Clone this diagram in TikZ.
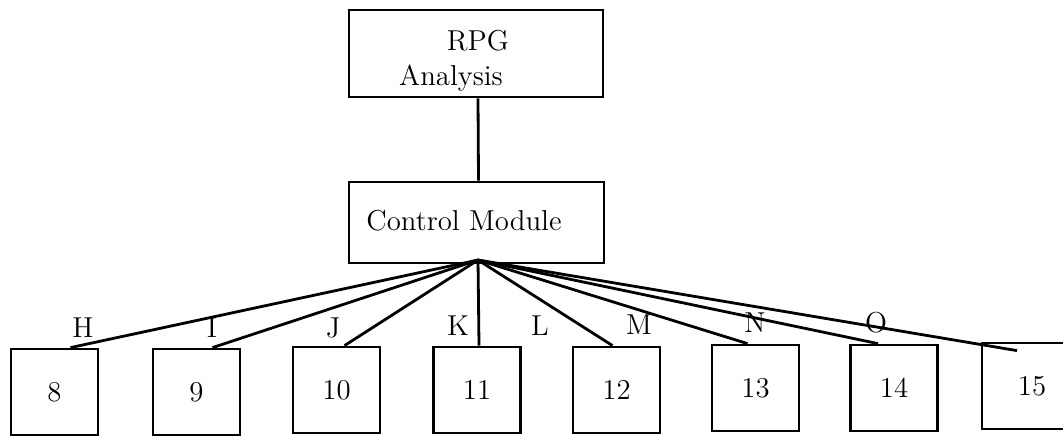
\documentclass[tikz,border=0pt]{standalone}
\usetikzlibrary{positioning}
\tikzset{
  box/.style={draw, rectangle, inner sep=0pt, font=\fontsize{14.4}{17}\selectfont},
  leaf/.style={box, minimum width=43.5pt, minimum height=43pt},
  tag/.style={inner sep=0pt, font=\fontsize{14.4}{17}\selectfont}
}
\begin{document}
\begin{tikzpicture}[x=0.5pt, y=-0.5pt, line width=1.4pt]
\useasboundingbox (0,0) rectangle (1063,435);
% top boxes
\node[box, minimum width=127pt, minimum height=43.5pt] (rpg) at (476,53.5) {};
\node[tag, anchor=base] (rpgname) at (478,50) {RPG};
\node[tag, anchor=base] (rpgsub) at (451,85) {Analysis};
\node[box, minimum width=127.5pt, minimum height=40.5pt] (ctrl) at (476.5,222.5) {};
\node[tag, anchor=base] (ctrlname) at (464,230) {Control Module};
\draw ([xshift=1pt]rpg.south) -- ([xshift=1pt]ctrl.north);
\coordinate (hub) at (478,260);
% modules
\foreach \n/\x/\y in {8/54.5/392, 9/196.5/392, 10/336.5/390, 11/477/390, 12/616.5/390, 13/755.5/388, 14/894/388}
{
    \node[leaf] (b\n) at (\x,\y) {\n};
}
\node[leaf, minimum width=50pt] (b15) at (1032,386) {15};
\foreach \n/\d in {8/8pt, 9/8pt, 10/4pt, 11/1pt, 12/-2pt, 13/-4pt, 14/-8pt}
{
    \draw (hub) -- ([xshift=\d]b\n.north);
}
\draw (hub) -- ([xshift=-7.5pt, yshift=-4.5pt]b15.north);
% calls
\foreach \l/\x/\y in {H/83/328, I/212/328, J/333/328, K/458/326, L/540/326, M/639/325, N/755/323, O/876/323}
{
    \node[tag] (call\l) at (\x,\y) {\l};
}
\end{tikzpicture}
\end{document}
